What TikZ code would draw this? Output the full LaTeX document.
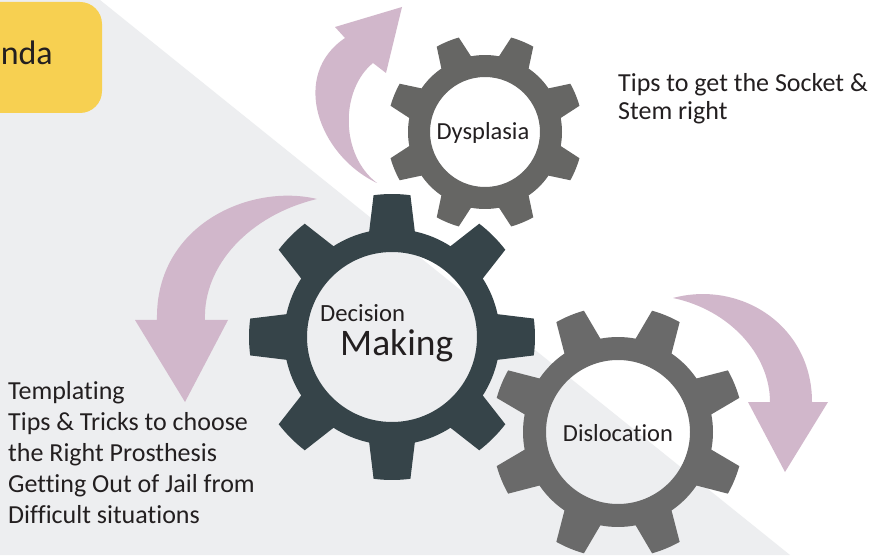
\documentclass[tikz,border=0pt]{standalone}
\usepackage{fontspec}
\setmainfont{Carlito}[Ligatures=NoCommon]
\usepackage{tikz}
\usepackage{xcolor}
\usetikzlibrary{positioning}
\definecolor{panelgray}{RGB}{237,238,240}
\definecolor{agendayellow}{RGB}{247,208,81}
\definecolor{arrowmauve}{RGB}{209,183,203}
\definecolor{gearstone}{RGB}{102,102,100}
\definecolor{gearslate}{RGB}{54,68,73}
\definecolor{gearsteel}{RGB}{106,106,106}
\definecolor{inkdark}{RGB}{35,31,32}

% colour, centre, tip radius, body radius, hole radius, tip half angle, base half angle, first tooth
\newcommand{\drawgear}[8]{%
  \begin{scope}[shift={#2}]
    \fill[#1,even odd rule] ({#8-#7}:#4)
      \foreach \k in {0,...,7}{
        -- ({#8+45*\k-#6}:#3) arc[start angle={#8+45*\k-#6},end angle={#8+45*\k+#6},radius=#3]
        -- ({#8+45*\k+#7}:#4) arc[start angle={#8+45*\k+#7},end angle={#8+45*\k+45-#7},radius=#4]
      } -- cycle (0,0) circle[radius=#5];
  \end{scope}}

\tikzset{
  tiptext/.style={inner sep=0pt,align=left,text=inkdark,font=\fontsize{26}{28}\selectfont},
  gearlabel/.style={inner sep=0pt,text=inkdark,font=\fontsize{24.5}{26}\selectfont}
}

\begin{document}
\begin{tikzpicture}[x=1pt,y=1pt,line cap=round,line join=round]
		\useasboundingbox (0,0) rectangle (876,555);
		\fill[white] (0,0) rectangle (876,555);
		\fill[panelgray] (0,0) -- (0,555) -- (100,555) -- (790,0) -- cycle;
		\fill[agendayellow,rounded corners=22pt] (-40,442) rectangle (102,553);
		\node[anchor=base east,inner sep=0pt,text=inkdark,font=\fontsize{34}{36}\selectfont] (agenda) at (53,490) {nda};

		\fill[arrowmauve] (377,372) .. controls (318,400) and (290,480) .. (345,517) -- (335,528) -- (402,548)
			-- (386,482) -- (373,492) .. controls (340,465) and (340,400) .. (377,372) -- cycle;
		\fill[arrowmauve] (317,356) .. controls (250,372) and (155,330) .. (157,235) -- (135,235) -- (185,153)
			-- (228,235) -- (205,235) .. controls (203,290) and (250,340) .. (317,356) -- cycle;
		\fill[arrowmauve] (673,257) .. controls (740,275) and (812,230) .. (812,153) -- (828,153) -- (785,83)
			-- (748,153) -- (770,153) .. controls (770,200) and (730,245) .. (673,257) -- cycle;

		\drawgear{gearstone}{(485,423)}{98}{77}{55}{7}{12}{22.5}
		\drawgear{gearsteel}{(618,123)}{126}{95}{72}{6.8}{11.8}{22.5}
		\drawgear{gearslate}{(392,218)}{143}{108}{85}{7.4}{12.2}{0}

		\node[gearlabel,anchor=base] (dysplasia) at (483,415) {Dysplasia};
		\node[gearlabel,anchor=base] (dislocation) at (618,114) {Dislocation};
		\node[gearlabel,anchor=base west,font=\fontsize{24.7}{26}\selectfont] (decision) at (320,233) {Decision};
		\node[gearlabel,anchor=base west,font=\fontsize{37.5}{40}\selectfont] (making) at (340,200) {Making};

		\node[tiptext,anchor=base west] (sockettips) at (618,435) {Tips to get the Socket \&\\Stem right};
		\node[tiptext,anchor=base west,font=\fontsize{26}{31}\selectfont] (templating) at (8,32)
			{Templating\\Tips \& Tricks to choose\\the Right Prosthesis\\Getting Out of Jail from\\Difficult situations};
\end{tikzpicture}
\end{document}
